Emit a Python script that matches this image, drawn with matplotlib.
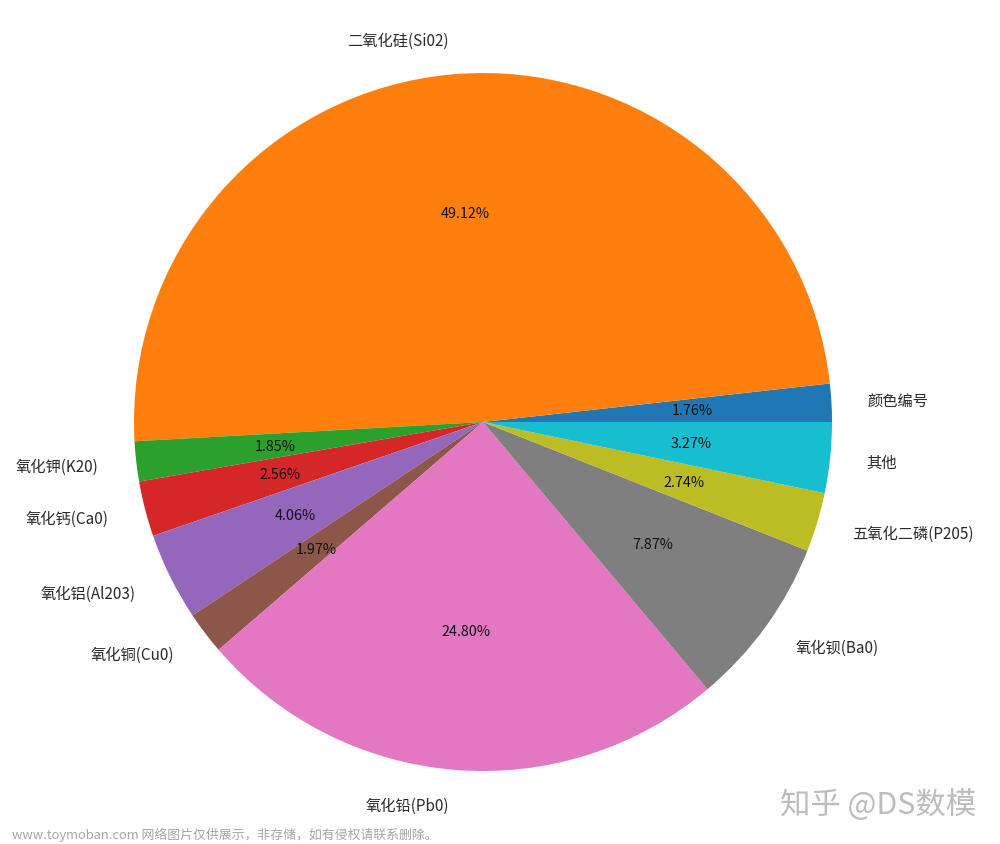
import matplotlib
matplotlib.use("Agg")
import matplotlib.pyplot as plt
from matplotlib.transforms import ScaledTranslation

plt.rcParams['font.family'] = ['Noto Sans CJK SC', 'DejaVu Sans']

labels = ['颜色编号', '二氧化硅(Si02)', '氧化钾(K20)', '氧化钙(Ca0)', '氧化铝(Al203)',
          '氧化铜(Cu0)', '氧化铅(Pb0)', '氧化钡(Ba0)', '五氧化二磷(P205)', '其他']
values = [1.76, 49.12, 1.85, 2.56, 4.06, 1.97, 24.80, 7.87, 2.74, 3.27]
WIDTH, HEIGHT = 1000, 844
CX, CY, R = 483, 422, 349

fig = plt.figure(figsize=(WIDTH / 100, HEIGHT / 100), dpi=100)
half = 1.25 * R
ax = fig.add_axes([(CX - half) / WIDTH, 1 - (CY + half) / HEIGHT, 2 * half / WIDTH, 2 * half / HEIGHT])
wedges, texts, autotexts = ax.pie(values, labels=labels, autopct='%.2f%%', radius=1.0)
for t in texts:
    t.set_fontsize(11)
    t.set_color('#2a2a2a')
    dx = -3 if t.get_ha() == 'right' else 1
    t.set_transform(t.get_transform() + ScaledTranslation(dx / 100, -1.5 / 100, fig.dpi_scale_trans))
for t in autotexts:
    t.set_fontsize(10.4)
    t.set_color('#111111')
    t.set_transform(t.get_transform() + ScaledTranslation(0, -1 / 100, fig.dpi_scale_trans))
ax.set_xlim(-1.25, 1.25)
ax.set_ylim(-1.25, 1.25)

fig.text(780 / WIDTH, 1 - 805 / HEIGHT, '知乎 @DS数模', fontsize=21.9, color='#bcbcbc',
         va='center', ha='left')
fig.text(12 / WIDTH, 1 - 835 / HEIGHT, 'www.toymoban.com 网络图片仅供展示，非存储，如有侵权请联系删除。',
         fontsize=9.3, color='#a6a6a6', va='center', ha='left')
fig.savefig('out.png', dpi=100)
